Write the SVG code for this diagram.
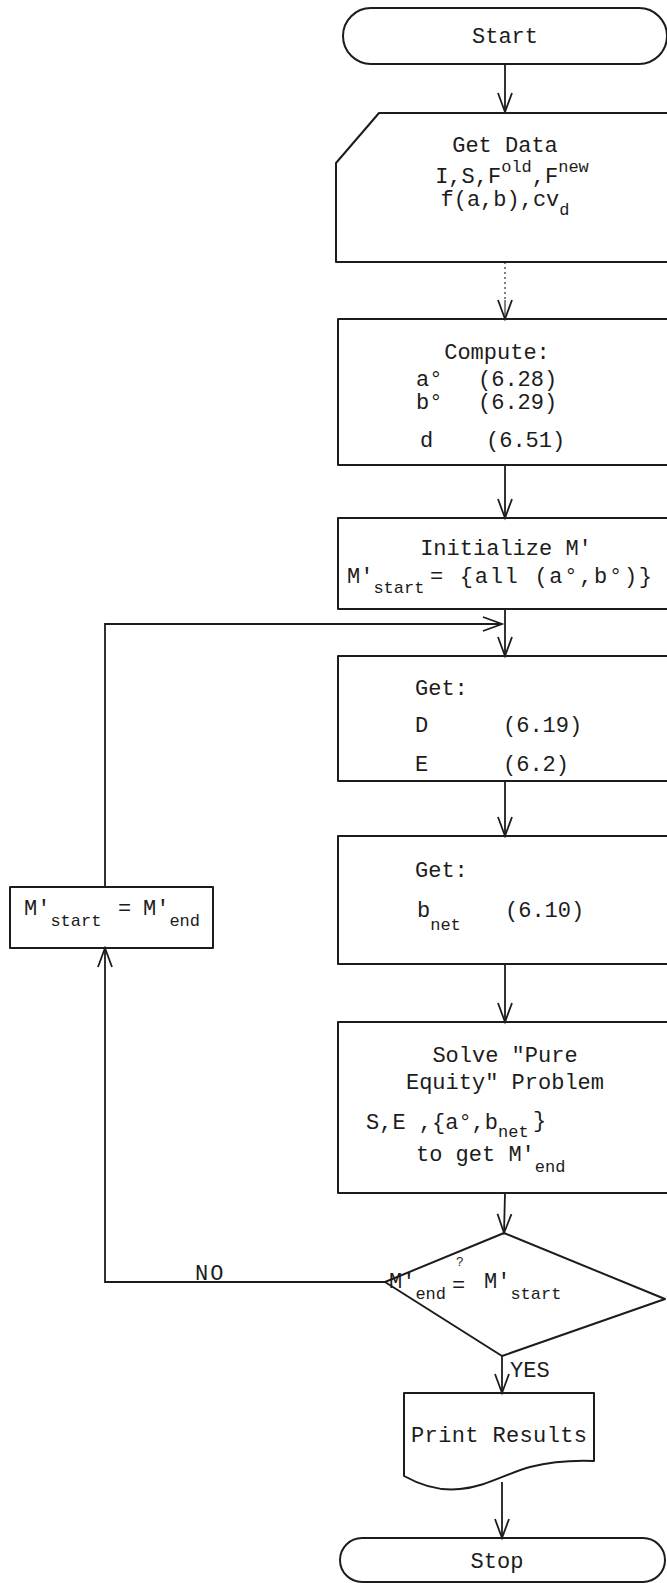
<svg xmlns="http://www.w3.org/2000/svg" width="667" height="1583" viewBox="0 0 667 1583">
  <style>
    .shape { fill: none; stroke: #1c1c1c; stroke-width: 2; stroke-linejoin: round; }
    .wire { fill: none; stroke: #1c1c1c; stroke-width: 1.8; }
    .faint { fill: none; stroke: #555; stroke-width: 1.5; stroke-dasharray: 2 3; }
    .t { font-family: "Liberation Mono", "DejaVu Sans Mono", monospace; font-size: 22px; fill: #1c1c1c; }
    .mid { text-anchor: middle; }
    .s { font-size: 17px; }
  </style>
  <defs>
    <marker id="vee" markerUnits="userSpaceOnUse" markerWidth="24" markerHeight="24" refX="0" refY="0" orient="auto" overflow="visible">
      <path d="M-19,-7 L0,0 L-19,7" fill="none" stroke="#1c1c1c" stroke-width="1.8"/>
    </marker>
  </defs>
  <rect width="667" height="1583" fill="#ffffff"/>

  <!-- flow lines -->
  <g id="connectors">
    <line class="wire" x1="505" y1="64" x2="505" y2="112" marker-end="url(#vee)"/>
    <line class="faint" x1="505" y1="262" x2="505" y2="300"/>
    <line class="wire" x1="505" y1="300" x2="505" y2="319" stroke-opacity="0.6" marker-end="url(#vee)"/>
    <line class="wire" x1="505" y1="465" x2="505" y2="518" marker-end="url(#vee)"/>
    <line class="wire" x1="505" y1="609" x2="505" y2="656" marker-end="url(#vee)"/>
    <line class="wire" x1="505" y1="781" x2="505" y2="836" marker-end="url(#vee)"/>
    <line class="wire" x1="505" y1="964" x2="505" y2="1022" marker-end="url(#vee)"/>
    <line class="wire" x1="505" y1="1193" x2="504" y2="1233" marker-end="url(#vee)"/>
    <!-- NO branch back into the loop -->
    <polyline class="wire" points="385,1282 105,1282 105,948" marker-end="url(#vee)"/>
    <polyline class="wire" points="105,887 105,624 502,624" marker-end="url(#vee)"/>
    <!-- YES branch -->
    <line class="wire" x1="502" y1="1356" x2="502" y2="1393" marker-end="url(#vee)"/>
    <line class="wire" x1="502" y1="1482" x2="502" y2="1538" marker-end="url(#vee)"/>
    <text class="t" x="195" y="1280" letter-spacing="2">NO</text>
    <text class="t" x="510" y="1377">YES</text>
  </g>

  <g id="start">
    <path class="shape" d="M371,8 H639 A28,28 0 0 1 639,64 H371 A28,28 0 0 1 371,8 Z"/>
    <text class="t mid" x="505" y="43">Start</text>
  </g>

  <g id="get-data">
    <path class="shape" d="M379,113 H700 V262 H336 V163 Z"/>
    <text class="t mid" x="505" y="152">Get Data</text>
    <text class="t mid" x="512" y="183">I,S,F<tspan class="s" dy="-11">old</tspan><tspan dy="11">,F</tspan><tspan class="s" dy="-11">new</tspan></text>
    <text class="t mid" x="505" y="206">f(a,b),cv<tspan class="s" dy="9">d</tspan></text>
  </g>

  <g id="compute">
    <rect class="shape" x="338" y="319" width="362" height="146"/>
    <text class="t mid" x="497" y="359">Compute:</text>
    <text class="t" x="416" y="386">a°</text>
    <text class="t" x="478" y="386">(6.28)</text>
    <text class="t" x="416" y="409">b°</text>
    <text class="t" x="478" y="409">(6.29)</text>
    <text class="t" x="420" y="447">d</text>
    <text class="t" x="486" y="447">(6.51)</text>
  </g>

  <g id="initialize">
    <rect class="shape" x="338" y="518" width="362" height="91"/>
    <text class="t mid" x="506" y="555">Initialize M'</text>
    <text class="t" x="347" y="583">M'<tspan class="s" dy="10">start</tspan></text>
    <text class="t" x="430" y="583" textLength="222">= {all (a°,b°)}</text>
  </g>

  <g id="get-d-e">
    <rect class="shape" x="338" y="656" width="362" height="125"/>
    <text class="t" x="415" y="695">Get:</text>
    <text class="t" x="415" y="732">D</text>
    <text class="t" x="503" y="732">(6.19)</text>
    <text class="t" x="415" y="771">E</text>
    <text class="t" x="503" y="771">(6.2)</text>
  </g>

  <g id="get-bnet">
    <rect class="shape" x="338" y="836" width="362" height="128"/>
    <text class="t" x="415" y="877">Get:</text>
    <text class="t" x="417" y="917">b<tspan class="s" dy="13">net</tspan></text>
    <text class="t" x="505" y="917">(6.10)</text>
  </g>

  <g id="solve">
    <rect class="shape" x="338" y="1022" width="362" height="171"/>
    <text class="t mid" x="505" y="1062">Solve "Pure</text>
    <text class="t mid" x="505" y="1089">Equity" Problem</text>
    <text class="t" x="366" y="1129">S,E ,{a°,b<tspan class="s" dy="8">net</tspan></text>
    <text class="t" x="533" y="1127">}</text>
    <text class="t" x="416" y="1161">to get M'<tspan class="s" dy="11">end</tspan></text>
  </g>

  <g id="converged">
    <polygon class="shape" points="504,1233 665,1299 502,1356 385,1282"/>
    <text class="t" x="389" y="1288">M'<tspan class="s" dy="11">end</tspan></text>
    <text class="t" x="452" y="1292">=</text>
    <text class="t" x="456" y="1266" style="font-size:13px">?</text>
    <text class="t" x="484" y="1288">M'<tspan class="s" dy="11">start</tspan></text>
  </g>

  <g id="update-m">
    <rect class="shape" x="10" y="887" width="203" height="61"/>
    <text class="t" x="24" y="915">M'<tspan class="s" dy="11">start</tspan></text>
    <text class="t" x="118" y="915">=</text>
    <text class="t" x="143" y="915">M'<tspan class="s" dy="11">end</tspan></text>
  </g>

  <g id="print-results">
    <path class="shape" d="M404,1393 H594 V1461 C570,1460 550,1462 530,1467 C505,1474 485,1487 460,1489 C442,1491 422,1486 404,1476 Z"/>
    <text class="t mid" x="499" y="1442" textLength="176">Print Results</text>
  </g>

  <g id="stop">
    <path class="shape" d="M362,1538 H643 A22,22 0 0 1 643,1582 H362 A22,22 0 0 1 362,1538 Z"/>
    <text class="t mid" x="497" y="1568">Stop</text>
  </g>
</svg>
